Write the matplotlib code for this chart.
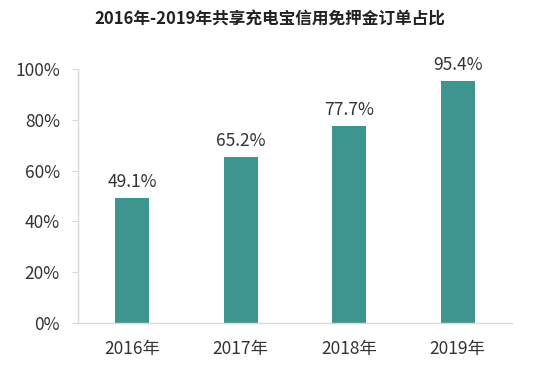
import matplotlib
matplotlib.use("Agg")
import matplotlib.pyplot as plt
from matplotlib.ticker import FuncFormatter

plt.rcParams['font.family'] = ['Noto Sans CJK SC', 'DejaVu Sans']

categories = ["2016年", "2017年", "2018年", "2019年"]
values = [49.1, 65.2, 77.7, 95.4]
value_labels = ["49.1%", "65.2%", "77.7%", "95.4%"]
yticks = [0, 20, 40, 60, 80, 100]
title = "2016年-2019年共享充电宝信用免押金订单占比"

bar_color = "#3e9590"
text_color = "#333333"
spine_color = "#d9d9d9"

fig = plt.figure(figsize=(5.4, 3.81), dpi=100)
ax = fig.add_axes([0.1444, 0.152, 0.8037, 0.667])

x = range(len(categories))
bars = ax.bar(x, values, width=0.31, color=bar_color)
for b, lab in zip(bars, value_labels):
    ax.annotate(lab, (b.get_x() + b.get_width() / 2, b.get_height()),
                xytext=(0, 5), textcoords="offset points",
                ha="center", va="bottom", fontsize=12.5, color=text_color)

ax.set_xlim(-0.5, len(categories) - 0.5)
ax.set_ylim(0, 100)
ax.set_yticks(yticks)
ax.yaxis.set_major_formatter(FuncFormatter(lambda v, p: f"{v:.0f}%"))
ax.set_xticks(list(x))
ax.set_xticklabels(categories)

for s in ["top", "right"]:
    ax.spines[s].set_visible(False)
for s in ["left", "bottom"]:
    ax.spines[s].set_color(spine_color)
    ax.spines[s].set_linewidth(1.0)

ax.tick_params(axis="y", length=4, color=spine_color, labelsize=12.5,
               labelcolor=text_color, pad=9)
ax.tick_params(axis="x", length=0, labelsize=12.5, labelcolor=text_color, pad=12)

fig.text(0.5, 0.952, title, ha="center", va="center", fontsize=12,
         fontweight="bold", color="#222222")

fig.savefig("out.png", dpi=100)
